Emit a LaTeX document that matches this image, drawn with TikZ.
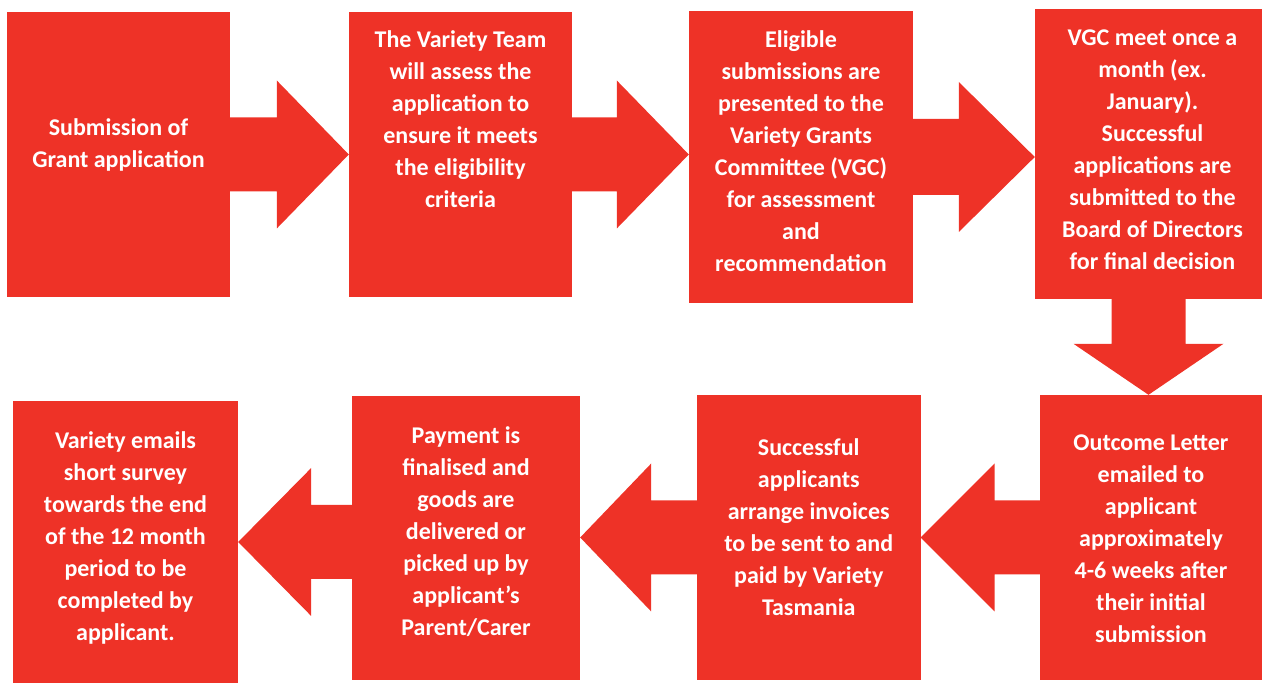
\documentclass[tikz,border=0pt]{standalone}
\usepackage{fontspec}
\setmainfont{Carlito}
\usetikzlibrary{positioning,calc}
\definecolor{varietyRed}{RGB}{238,50,39}

\begin{document}
\begin{tikzpicture}[x=1pt, y=1pt,
    % --- Styles ---
    stepBlock/.style={
      fill=varietyRed,
      rectangle,
      inner sep=0pt
    },
    stepText/.style={
      text=white,
      font=\bfseries\fontsize{24}{32}\selectfont,
      align=center,
      inner sep=0pt
    },
    blockArrow/.style={
      fill=varietyRed
    }
]
\useasboundingbox (0,0) rectangle (1262,684);

%=====================
% Top row: boxes
%=====================
\node[stepBlock, minimum width=223, minimum height=285] (boxA) at (118.5,529.5) {};
\node[stepBlock, minimum width=223, minimum height=285] (boxB) at (460.5,529.5) {};
\node[stepBlock, minimum width=224, minimum height=292] (boxC) at (801,527) {};
\node[stepBlock, minimum width=227, minimum height=290] (boxD) at (1148.5,530) {};

%=====================
% Bottom row: boxes
%=====================
\node[stepBlock, minimum width=222, minimum height=285] (boxE) at (1151,146.5) {};
\node[stepBlock, minimum width=223.5, minimum height=285] (boxF) at (808.75,146.5) {};
\node[stepBlock, minimum width=228, minimum height=284] (boxG) at (466,146) {};
\node[stepBlock, minimum width=225, minimum height=282] (boxH) at (125.5,142) {};

%=====================
% Arrows: top row, pointing right
%=====================
\fill[blockArrow] ([yshift=37pt]boxA.east) -- ($(boxA.east -| boxB.west)+(-72,37)$) -- ++(0,37)
  -- (boxA.east -| boxB.west) -- ++(-72,-74) -- ++(0,37) -- ([yshift=-37pt]boxA.east) -- cycle;
\fill[blockArrow] ([yshift=37pt]boxB.east) -- ($(boxB.east -| boxC.west)+(-72,37)$) -- ++(0,37)
  -- (boxB.east -| boxC.west) -- ++(-72,-74) -- ++(0,37) -- ([yshift=-37pt]boxB.east) -- cycle;
\fill[blockArrow] ([yshift=38pt]boxC.east) -- ($(boxC.east -| boxD.west)+(-76,38)$) -- ++(0,37)
  -- (boxC.east -| boxD.west) -- ++(-76,-75) -- ++(0,37) -- ([yshift=-38pt]boxC.east) -- cycle;

%=====================
% Arrow: down to the bottom row
%=====================
\fill[blockArrow] ([xshift=-37pt]boxD.south) -- ($(boxD.south |- boxE.north)+(-37,51)$) -- ++(-38,0)
  -- (boxD.south |- boxE.north) -- ++(75,51) -- ++(-38,0) -- ([xshift=37pt]boxD.south) -- cycle;

%=====================
% Arrows: bottom row, pointing left
%=====================
\fill[blockArrow] ([yshift=37pt]boxE.west) -- ($(boxE.west -| boxF.east)+(74,37)$) -- ++(0,37)
  -- (boxE.west -| boxF.east) -- ++(74,-74) -- ++(0,37) -- ([yshift=-37pt]boxE.west) -- cycle;
\fill[blockArrow] ([yshift=37pt]boxF.west) -- ($(boxF.west -| boxG.east)+(71,37)$) -- ++(0,37)
  -- (boxF.west -| boxG.east) -- ++(71,-74) -- ++(0,37) -- ([yshift=-37pt]boxF.west) -- cycle;
\fill[blockArrow] ($(boxH.east -| boxG.west)+(0,37)$) -- ($(boxH.east)+(73,37)$) -- ++(0,37)
  -- (boxH.east) -- ++(73,-74) -- ++(0,37) -- ($(boxH.east -| boxG.west)+(0,-37)$) -- cycle;

%=====================
% Texts
%=====================
\node[stepText, below=107pt of boxA.north] (txtA) {Submission of\\Grant application};
\node[stepText, below=19pt of boxB.north] (txtB) {The Variety Team\\will assess the\\application to\\ensure it meets\\the eligibility\\criteria};
\node[stepText, below=20pt of boxC.north] (txtC) {Eligible\\submissions are\\presented to the\\Variety Grants\\Committee (VGC)\\for assessment\\and\\recommendation};
\node[stepText, below=21pt of boxD.north, xshift=4pt] (txtD) {VGC meet once a\\month (ex.\\January).\\Successful\\applications are\\submitted to the\\Board of Directors\\for final decision};
\node[stepText, below=40pt of boxE.north] (txtE) {Outcome Letter\\emailed to\\applicant\\approximately\\4-6 weeks after\\their initial\\submission};
\node[stepText, below=44pt of boxF.north] (txtF) {Successful\\applicants\\arrange invoices\\to be sent to and\\paid by Variety\\Tasmania};
\node[stepText, below=31pt of boxG.north] (txtG) {Payment is\\finalised and\\goods are\\delivered or\\picked up by\\applicant’s\\Parent/Carer};
\node[stepText, below=31pt of boxH.north] (txtH) {Variety emails\\short survey\\towards the end\\of the 12 month\\period to be\\completed by\\applicant.};

\end{tikzpicture}
\end{document}
